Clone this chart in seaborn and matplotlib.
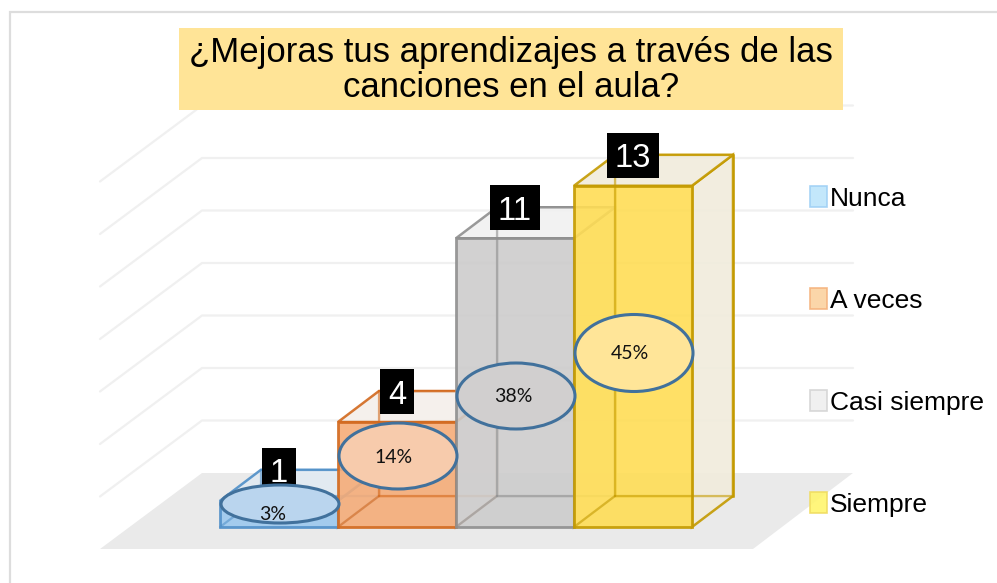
"""Columnas 3D de la encuesta sobre canciones en el aula."""
import matplotlib
matplotlib.use('Agg')
import matplotlib.pyplot as plt
from matplotlib.patches import Ellipse, Patch, Polygon, Rectangle
import pandas as pd
import seaborn as sns

categorias = ['Nunca', 'A veces', 'Casi siempre', 'Siempre']
valores = [1, 4, 11, 13]
porcentajes = ['3%', '14%', '38%', '45%']
titulo = '¿Mejoras tus aprendizajes a través de las\ncanciones en el aula?'

color_frente = ['#9CC8EE', '#F5AC78', '#CDCCCC', '#FFDD55']
color_borde = ['#4F8FC8', '#D2691E', '#8F8F8F', '#C49A00']
color_lado = ['#E2EAF2', '#F4EFEA', '#F1F1F1', '#F1ECDC']
color_elipse = ['#BAD5EE', '#F7CBAC', '#D1CFCF', '#FFE598']
color_leyenda = ['#BDE5FB', '#FBD2A0', '#EFEFEF', '#FFF56E']

# escala en pixeles de la imagen
PX_CAT = 118.0
PX_VAL = 26.25
X0 = 279.0
Y0 = 527.0
W, H = 997, 583


def px_x(x):
    return (x - X0) / PX_CAT


def px_y(y):
    return (Y0 - y) / PX_VAL


sns.set_theme(style='white')
plt.rcParams['font.family'] = ['Liberation Sans', 'DejaVu Sans']

fig = plt.figure(figsize=(W / 100, H / 100), dpi=100)
ax = fig.add_axes([0, 0, 1, 1])

df = pd.DataFrame({'categoria': categorias, 'valor': valores})
sns.barplot(data=df, x='categoria', y='valor', hue='categoria', hue_order=categorias,
            palette=color_frente, saturation=1, dodge=False, width=1.0, legend=False, ax=ax)
ax.set_xlim(px_x(0), px_x(W))
ax.set_ylim(px_y(H), px_y(0))
ax.axis('off')

# marco del grafico
ax.add_patch(Rectangle((px_x(10), px_y(H + 20)), px_x(W + 20) - px_x(10), px_y(12) - px_y(H + 20),
                       fc='white', ec='#DDDDDD', lw=1.6, zorder=0))

# suelo y lineas de la pared del fondo
DX = 41 / PX_CAT
DY = 31 / PX_VAL
pared_x0, pared_x1 = px_x(202), px_x(853)
izq_x, suelo_y = px_x(100), px_y(473)
suelo_dy = px_y(473) - px_y(549)
ax.add_patch(Polygon([(izq_x, suelo_y - suelo_dy), (px_x(753), suelo_y - suelo_dy),
                      (pared_x1, suelo_y), (pared_x0, suelo_y)],
                     fc='#EAEAEA', ec='none', zorder=0.5))
for nivel in range(2, 16, 2):
    y = suelo_y + nivel
    ax.plot([izq_x, pared_x0, pared_x1], [y - suelo_dy, y, y], color='#F0F0F0', lw=1.6, zorder=0.6)

# caras de cada columna, a partir de las barras de seaborn
ELIPSE_Y = [504, 456, 396, 353]
ELIPSE_H = [38, 66, 66, 77]
TEXTO_DX = [-7, -4, -3, -4]
TEXTO_Y = [513, 456, 395, 352]
CAJA_W = [34, 34, 50, 52]
CAJA_H = 45
for i, cont in enumerate(ax.containers):
    bar = cont[0]
    x0, ancho, alto = bar.get_x(), bar.get_width(), bar.get_height()
    x1 = x0 + ancho
    z = 2 + i
    ec = color_borde[i]
    # pared trasera solo con borde; lateral y tapa casi opacos
    ax.add_patch(Polygon([(x0 + DX, DY), (x1 + DX, DY), (x1 + DX, alto + DY), (x0 + DX, alto + DY)],
                         fc='none', ec=ec, lw=1.8, zorder=z))
    ax.add_patch(Polygon([(x1, 0), (x1 + DX, DY), (x1 + DX, alto + DY), (x1, alto)],
                         fc=color_lado[i], ec=ec, lw=1.8, alpha=0.9, zorder=z + 0.1))
    ax.add_patch(Polygon([(x0, alto), (x1, alto), (x1 + DX, alto + DY), (x0 + DX, alto + DY)],
                         fc=color_lado[i], ec=ec, lw=1.8, alpha=0.9, zorder=z + 0.1))
    bar.set_edgecolor(ec)
    bar.set_linewidth(2.0)
    bar.set_alpha(0.9)
    bar.set_zorder(z + 0.3)
    # aristas interiores vistas a traves del frente
    ax.plot([x0 + DX, x0 + DX], [DY, alto + DY], color=ec, lw=1.6, alpha=0.55, zorder=z + 0.4)
    ax.plot([x0 + DX, x1 + DX], [DY, DY], color=ec, lw=1.6, alpha=0.55, zorder=z + 0.4)
    ax.plot([x0, x0 + DX], [0, DY], color=ec, lw=1.6, alpha=0.55, zorder=z + 0.4)

    # etiqueta negra con el valor
    cx = x0 + ancho / 2
    cw = CAJA_W[i] / PX_CAT
    cy = alto + DY - 23 / PX_VAL
    ax.add_patch(Rectangle((cx - cw / 2, cy), cw, CAJA_H / PX_VAL, fc='black', ec='none', zorder=10))
    ax.text(cx, cy + CAJA_H / PX_VAL / 2, str(valores[i]), color='white', ha='center', va='center_baseline',
            fontsize=23.5, zorder=11)

    # globo con el porcentaje
    ax.add_patch(Ellipse((cx + 1 / PX_CAT, px_y(ELIPSE_Y[i])), ancho, ELIPSE_H[i] / PX_VAL,
                         fc=color_elipse[i], ec='#41719C', lw=2.2, zorder=12))
    ax.text(cx + 1 / PX_CAT + TEXTO_DX[i] / PX_CAT, px_y(TEXTO_Y[i]), porcentajes[i], ha='center',
            va='center_baseline', fontsize=14, color='#111111', family=['Lato', 'DejaVu Sans'], zorder=13)

# titulo sobre fondo amarillo
ax.add_patch(Rectangle((px_x(179), px_y(110)), px_x(843) - px_x(179), px_y(28) - px_y(110),
                       fc='#FFE497', ec='none', zorder=14))
ax.text(px_x(511), px_y(70), titulo, ha='center', va='center', fontsize=25, linespacing=1.08,
        color='black', zorder=15)

# leyenda
handles = [Patch(fc=c, ec=e, lw=1.2, alpha=0.9, label=n)
           for c, e, n in zip(color_leyenda, ['#9FD0F5', '#F5B27C', '#D4D4D4', '#F0DC60'], categorias)]
ax.legend(handles=handles, loc='upper left', bbox_to_anchor=(802 / W, 1 - 178 / H), frameon=False,
          fontsize=19, labelcolor='black', handlelength=0.65, handleheight=0.85, handletextpad=0.12,
          labelspacing=2.93, borderpad=0, borderaxespad=0.3)

fig.savefig('out.png', dpi=100)
